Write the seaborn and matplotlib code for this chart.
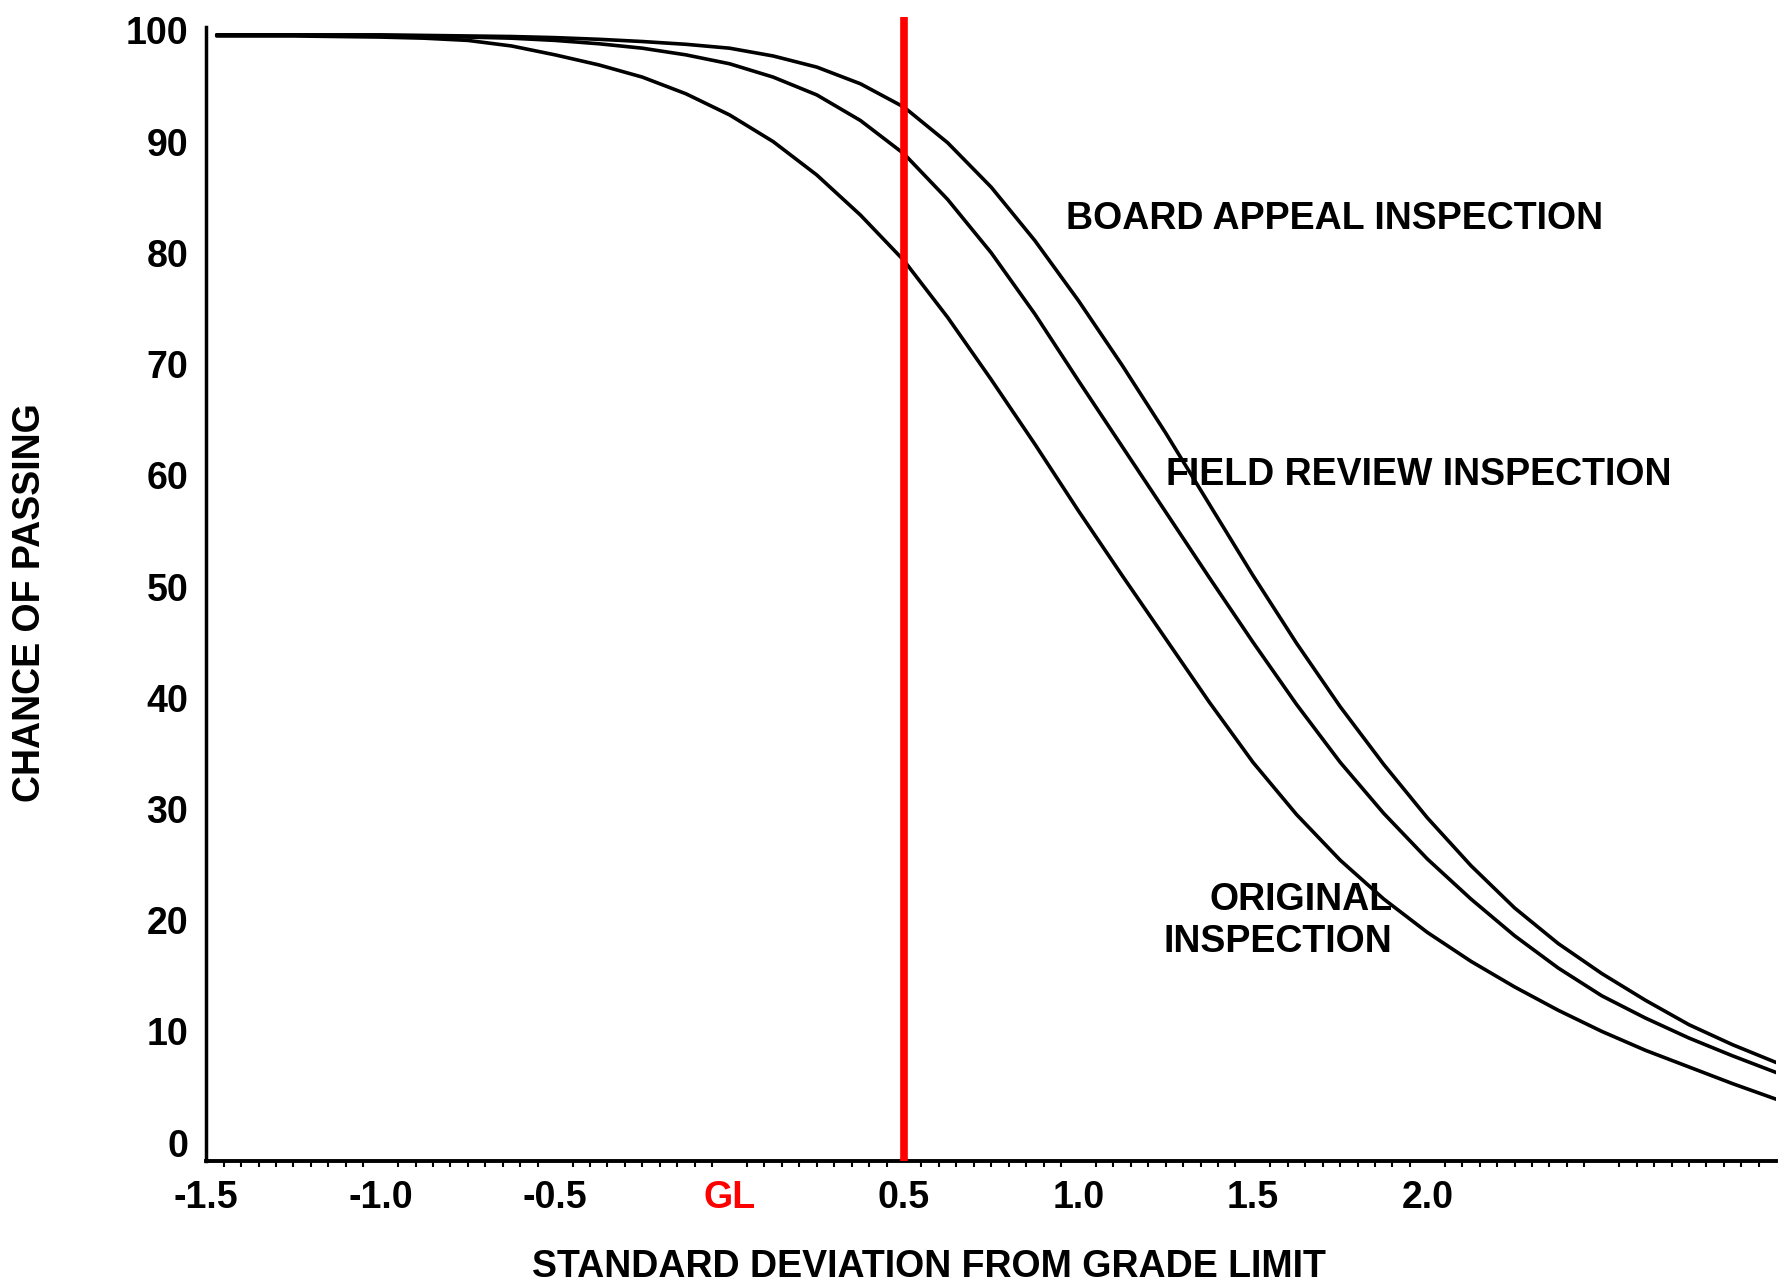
import pandas as pd
import matplotlib
matplotlib.use("Agg")
import matplotlib.pyplot as plt
from matplotlib.ticker import MultipleLocator
import seaborn as sns

# standard deviations from the grade limit (GL = 0)
sd_values = [-1.47, -1.25, -1.0, -0.875, -0.75, -0.625, -0.5, -0.375, -0.25, -0.125,
             0.0, 0.125, 0.25, 0.375, 0.5, 0.625, 0.75, 0.875, 1.0, 1.125, 1.25,
             1.375, 1.5, 1.625, 1.75, 1.875, 2.0, 2.125, 2.25, 2.375, 2.5, 2.625,
             2.75, 2.875, 3.0]

# chance of passing (%)
board_appeal = [99.6, 99.6, 99.6, 99.55, 99.5, 99.45, 99.35, 99.2, 99.0, 98.75,
                98.4, 97.7, 96.7, 95.2, 93.1, 89.9, 85.9, 81.1, 75.7, 69.9, 63.8,
                57.4, 51.0, 44.9, 39.2, 34.0, 29.2, 24.9, 21.1, 17.9, 15.2, 12.8,
                10.6, 8.8, 7.2]
field_review = [99.6, 99.6, 99.5, 99.45, 99.4, 99.3, 99.1, 98.8, 98.4, 97.8,
                97.0, 95.8, 94.2, 91.9, 88.9, 84.8, 80.0, 74.5, 68.5, 62.6, 56.7,
                50.8, 45.0, 39.4, 34.2, 29.6, 25.5, 21.9, 18.6, 15.7, 13.2, 11.2,
                9.4, 7.8, 6.3]
original = [99.5, 99.5, 99.4, 99.3, 99.1, 98.6, 97.8, 96.9, 95.8, 94.3,
            92.4, 90.0, 87.0, 83.4, 79.3, 74.2, 68.6, 62.8, 56.8, 51.0, 45.3,
            39.6, 34.2, 29.5, 25.4, 21.9, 18.9, 16.3, 14.0, 11.9, 10.0, 8.3,
            6.8, 5.3, 3.9]

series_names = ["BOARD APPEAL INSPECTION", "FIELD REVIEW INSPECTION", "ORIGINAL\nINSPECTION"]
grade_limit_line = 0.5

tick_positions = [-1.5, -1.0, -0.5, 0.0, 0.5, 1.0, 1.5, 2.0, 2.5, 3.0]
tick_labels = ["-1.5", "-1.0", "-0.5", "GL", "0.5", "1.0", "1.5", "2.0", "", ""]
y_ticks = [0, 10, 20, 30, 40, 50, 60, 70, 80, 90, 100]

sns.set_theme(style="white")
plt.rcParams["font.family"] = ["Liberation Sans", "DejaVu Sans"]
plt.rcParams["font.weight"] = "bold"
plt.rcParams["text.color"] = "black"
plt.rcParams["axes.labelcolor"] = "black"
plt.rcParams["xtick.color"] = "black"
plt.rcParams["ytick.color"] = "black"

df = pd.DataFrame({
    "sd": sd_values * 3,
    "chance": board_appeal + field_review + original,
    "inspection": [n for n in series_names for _ in sd_values],
})

fig = plt.figure(figsize=(17.87, 12.82), dpi=100)
ax = fig.add_axes([0.1154, 0.0944, 0.8786, 0.8923])

sns.lineplot(data=df, x="sd", y="chance", hue="inspection",
             palette=["black"] * 3, linewidth=2.6, legend=False, ax=ax)
for line in ax.lines:
    line.set_solid_joinstyle("round")
    line.set_solid_capstyle("round")

ax.axvline(grade_limit_line, color="#ff0000", linewidth=5.5, zorder=5)

ax.set_xlim(-1.5, 3.0)
ax.set_ylim(-1.65, 101.2)

ax.set_xticks(tick_positions)
ax.set_xticklabels(tick_labels)
ax.xaxis.set_minor_locator(MultipleLocator(0.05))
ax.get_xticklabels()[3].set_color("#ff0000")
ax.set_yticks(y_ticks)

ax.tick_params(axis="x", which="major", direction="out", length=7, width=2,
               color="black", pad=7, labelsize=27)
ax.tick_params(axis="x", which="minor", direction="out", length=4, width=1.5,
               color="black", bottom=True)
ax.tick_params(axis="y", length=0, pad=13, labelsize=27)
for lbl in ax.get_xticklabels() + ax.get_yticklabels():
    lbl.set_fontweight("bold")

for side in ["top", "right"]:
    ax.spines[side].set_visible(False)
ax.spines["left"].set_bounds(-1.65, 100.3)
ax.spines["left"].set_linewidth(2.5)
ax.spines["bottom"].set_linewidth(2.8)
ax.spines["left"].set_color("black")
ax.spines["bottom"].set_color("black")

ax.set_xlabel("")
ax.set_ylabel("")

# curve labels
ax.text(0.964, 83.0, series_names[0], fontsize=27, fontweight="bold", va="center", ha="left")
ax.text(1.25, 60.0, series_names[1], fontsize=27, fontweight="bold", va="center", ha="left")
ax.text(1.90, 19.9, series_names[2], fontsize=27, fontweight="bold", va="center", ha="right",
        multialignment="right", linespacing=1.2)

fig.text(0.52, 0.012, "STANDARD DEVIATION FROM GRADE LIMIT", fontsize=27, fontweight="bold",
         ha="center", va="center")
fig.text(0.017, 0.53, "CHANCE OF PASSING", fontsize=27, fontweight="bold",
         ha="center", va="center", rotation=90)

fig.savefig("out.png", dpi=100)
